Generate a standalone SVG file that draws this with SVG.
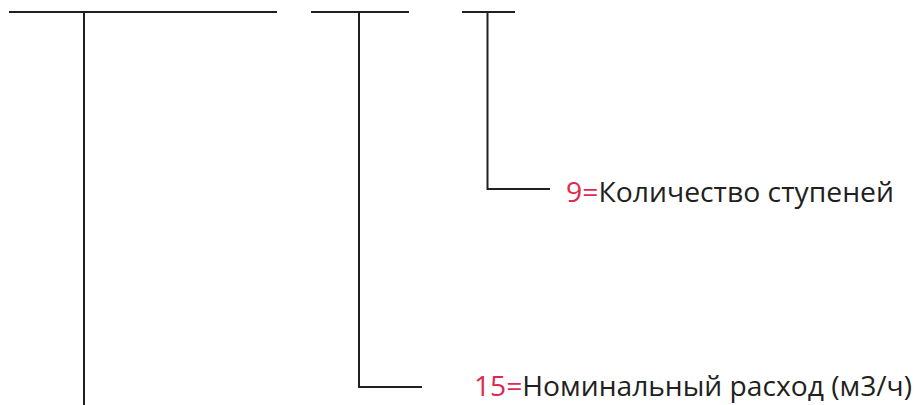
<svg xmlns="http://www.w3.org/2000/svg" width="920" height="405" viewBox="0 0 920 405">
  <style>
    .ln { stroke: #231f20; stroke-width: 2; fill: none; stroke-linecap: butt; }
    .lbl { font-family: "Open Sans", "Noto Sans", "Liberation Sans", sans-serif; font-size: 27px; fill: #231f20; }
    .code { fill: #e0294f; }
  </style>
  <rect width="920" height="405" fill="#ffffff"/>
  <g id="segment-1">
    <line class="ln" x1="9" y1="12" x2="277" y2="12"/>
  </g>
  <g id="segment-2">
    <line class="ln" x1="311" y1="12" x2="409" y2="12"/>
  </g>
  <g id="segment-3">
    <line class="ln" x1="462" y1="12" x2="515" y2="12"/>
  </g>
  <g id="connectors">
    <line class="ln" x1="84" y1="12" x2="84" y2="405"/>
    <polyline class="ln" points="359,12 359,387 422,387"/>
    <polyline class="ln" points="487.5,12 487.5,189 550,189"/>
  </g>
  <g id="label-stages">
    <text class="lbl" x="566" y="202" textLength="328" lengthAdjust="spacingAndGlyphs"><tspan class="code">9=</tspan>Количество ступеней</text>
  </g>
  <g id="label-flow">
    <text class="lbl" x="474" y="396" textLength="438" lengthAdjust="spacingAndGlyphs"><tspan class="code">15=</tspan>Номинальный расход (м3/ч)</text>
  </g>
</svg>
